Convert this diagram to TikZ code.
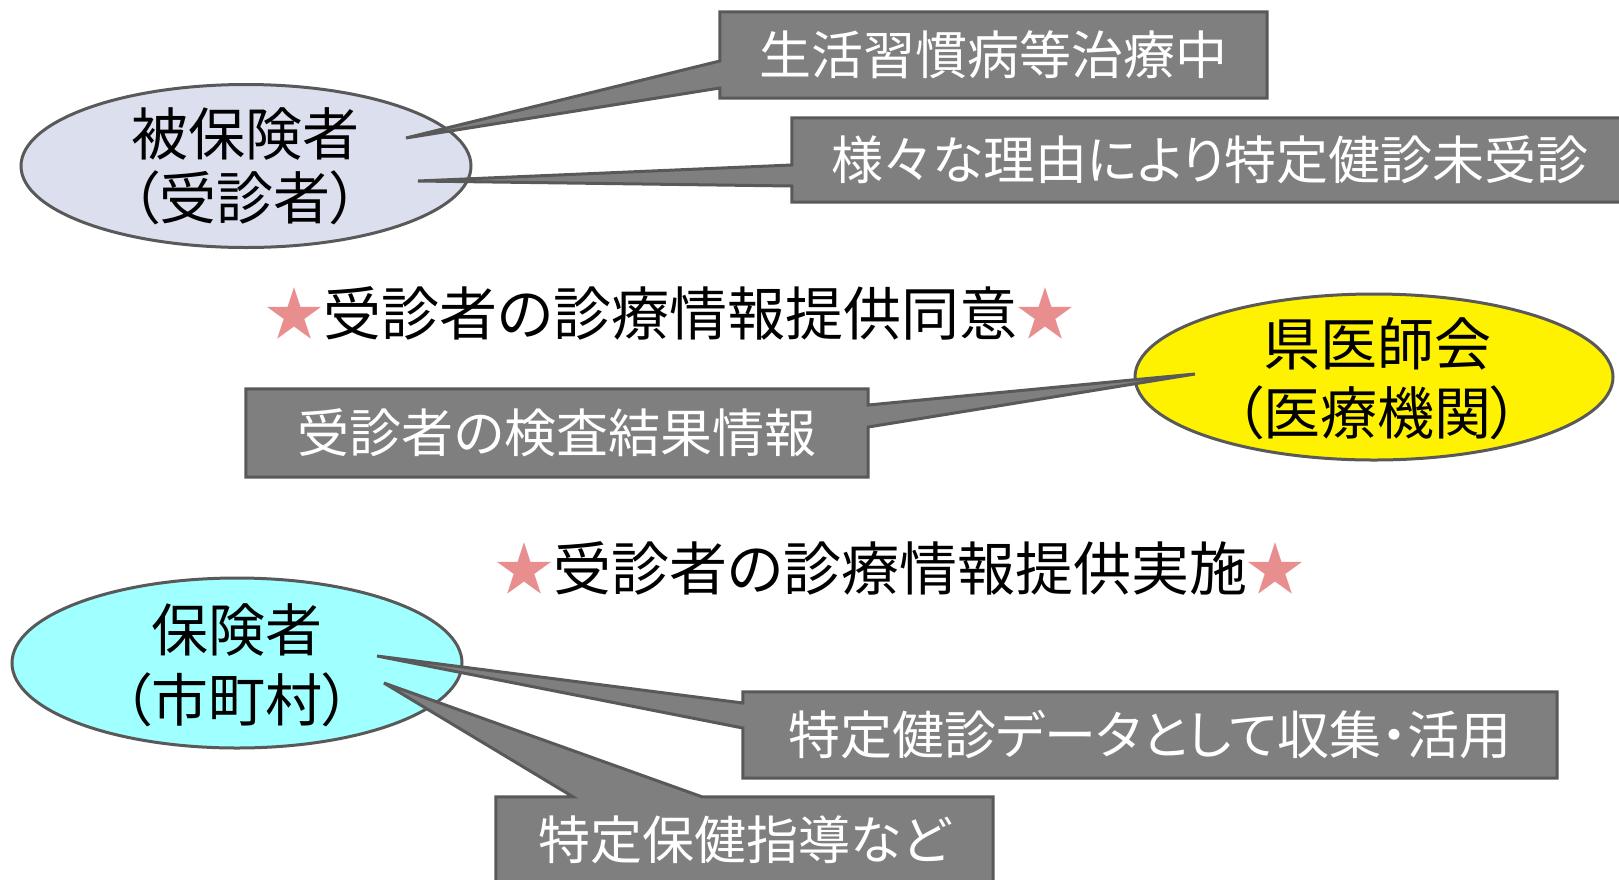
\documentclass[tikz,border=0pt]{standalone}
\usepackage{fontspec}
\newfontfamily\jp[RawFeature=+palt]{Noto Sans CJK JP}
\usetikzlibrary{shapes.geometric}
\pgfdeclarelayer{bottom}
\pgfdeclarelayer{mid}
\pgfsetlayers{bottom,mid,main}
\definecolor{boxgray}{HTML}{7F7F7F}
\definecolor{edgegray}{HTML}{595959}
\definecolor{lav}{HTML}{DCE0EE}
\definecolor{aqua}{HTML}{A0FFFF}
\definecolor{starpink}{HTML}{E88E8E}
\begin{document}
\begin{tikzpicture}[x=1pt,y=-1pt,
  ell/.style={ellipse, draw=edgegray, line width=3pt, inner sep=0pt},
  elltext/.style={inner sep=0pt, align=center, text=black},
  boxtext/.style={inner sep=0pt, text=white, font=\jp\fontsize{52}{60}\selectfont},
  callout/.style={fill=boxgray, draw=edgegray, line width=3pt, line join=miter},
  title/.style={inner sep=0pt, font=\jp\fontsize{58}{70}\selectfont, text=black}]
\useasboundingbox (0,0) rectangle (1619,879);

% ellipses
\begin{pgfonlayer}{bottom}
\node[ell, fill=lav, minimum width=450pt, minimum height=163pt] (e1) at (246,166) {};
\node[ell, fill=yellow, minimum width=478pt, minimum height=166pt] (e3) at (1374,377) {};
\node[ell, fill=aqua, minimum width=450pt, minimum height=170pt] (e4) at (237,663) {};
\end{pgfonlayer}
\node[elltext, font=\jp\fontsize{57}{64}\selectfont] (e1t) at (245,166) {被保険者\\（受診者）};
\node[elltext, font=\jp\fontsize{57}{69}\selectfont] (e3t) at (1377,379) {県医師会\\（医療機関）};
\node[elltext, font=\jp\fontsize{57}{70}\selectfont] (e4t) at (237,665) {保険者\\（市町村）};

% callout boxes (text)
\node[boxtext, minimum width=547pt, minimum height=86pt] (b1) at (993.5,55) {生活習慣病等治療中};
\node[boxtext, minimum width=836pt, minimum height=84pt] (b2) at (1210,160) {様々な理由により特定健診未受診};
\node[boxtext, minimum width=622pt, minimum height=88pt] (b3) at (557,433) {受診者の検査結果情報};
\node[boxtext, minimum width=814pt, minimum height=86pt] (b4) at (1150,735) {特定健診データとして収集・活用};
\node[boxtext, minimum width=497pt, minimum height=86pt] (b5) at (744.5,840) {特定保健指導など};

% pointer tips
\coordinate (p1) at (406,138);
\coordinate (p2) at (418,181);
\coordinate (p3) at (1195,374);
\coordinate (p4) at (377,656);
\coordinate (p5) at (384,683);

\begin{pgfonlayer}{mid}
\path[callout] (b1.north west) -- (b1.north east) -- (b1.south east) -- (b1.south west)
  -- (b1.west |- 0,88) -- (p1) -- (b1.west |- 0,61) -- cycle;
\path[callout] (b2.north west) -- (b2.north east) -- (b2.south east) -- (b2.south west)
  -- (b2.west |- 0,186) -- (p2) -- (b2.west |- 0,165) -- cycle;
\path[callout] (b3.north west) -- (b3.north east) -- (b3.east |- 0,405) -- (p3)
  -- (b3.east |- 0,427) -- (b3.south east) -- (b3.south west) -- cycle;
\path[callout] (b4.north west) -- (b4.north east) -- (b4.south east) -- (b4.south west)
  -- (b4.west |- 0,728) -- (p4) -- (b4.west |- 0,703) -- cycle;
\path[callout] (b5.south west) -- (b5.north west) -- (b5.north -| 573,0) -- (p5)
  -- (b5.north -| 702,0) -- (b5.north east) -- (b5.south east) -- cycle;
\end{pgfonlayer}

% titles
\node[title] (t1) at (670,313) {\textcolor{starpink}{★}受診者の診療情報提供同意\textcolor{starpink}{★}};
\node[title] (t2) at (900,568) {\textcolor{starpink}{★}受診者の診療情報提供実施\textcolor{starpink}{★}};
\end{tikzpicture}
\end{document}
